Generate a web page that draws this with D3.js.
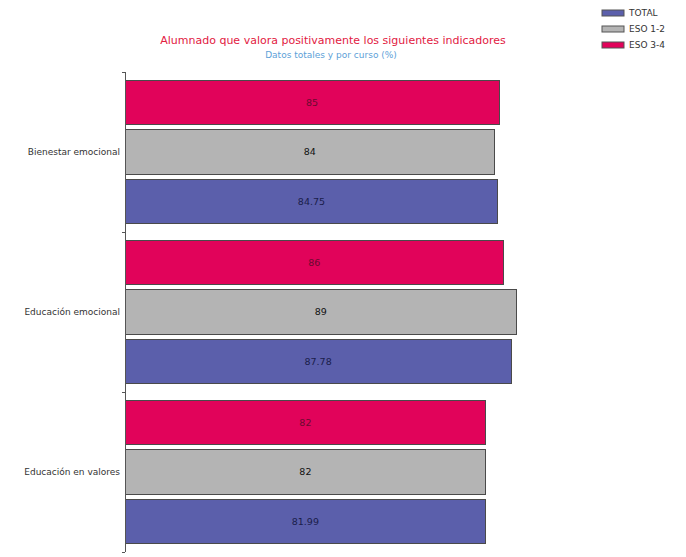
<!DOCTYPE html>
<meta charset="utf-8">
<style>
body { margin: 0; background: #fff; }
text { font-family: "DejaVu Sans", sans-serif; }
.axis path, .axis line { fill: none; stroke: #555; shape-rendering: crispEdges; }
.bar { stroke: #4a4a4a; stroke-width: 1px; shape-rendering: crispEdges; }
</style>
<svg width="686" height="557"></svg>
<script src="https://d3js.org/d3.v7.min.js"></script>
<script>

var categories = ["Bienestar emocional", "Educación emocional", "Educación en valores"];
var series = ["ESO 3-4", "ESO 1-2", "TOTAL"];
var values = {
  "ESO 3-4": [85, 86, 82],
  "ESO 1-2": [84, 89, 82],
  "TOTAL":   [84.75, 87.78, 81.99]
};
var legendOrder = ["TOTAL", "ESO 1-2", "ESO 3-4"];

var colors = {"ESO 3-4": "#e1035a", "ESO 1-2": "#b4b4b4", "TOTAL": "#5b5fab"};
var labelColors = {"ESO 3-4": "#6a0a30", "ESO 1-2": "#111", "TOTAL": "#1a1d4a"};

var svg = d3.select("svg");

var margin = {top: 72, left: 125},
    plotH = 480,
    plotW = 440;

var y = d3.scaleBand()
    .domain(categories)
    .range([margin.top, margin.top + plotH]);

var ySub = d3.scaleBand()
    .domain(series)
    .range([0, y.bandwidth()])
    .paddingInner(0.1)
    .paddingOuter(0.17);

var x = d3.scaleLinear()
    .domain([0, 100])
    .range([margin.left, margin.left + plotW]);

// title
svg.append("text")
    .attr("x", 333).attr("y", 44)
    .attr("text-anchor", "middle")
    .style("font-size", "11px")
    .style("fill", "#e2203f")
    .text("Alumnado que valora positivamente los siguientes indicadores");

svg.append("text")
    .attr("x", 331).attr("y", 58)
    .attr("text-anchor", "middle")
    .style("font-size", "9px")
    .style("fill", "#5d9fd8")
    .text("Datos totales y por curso (%)");

// bars
var rows = [];
categories.forEach(function(c, i) {
  series.forEach(function(s) {
    rows.push({cat: c, key: s, value: values[s][i]});
  });
});

var bar = svg.selectAll(".barg")
    .data(rows)
  .enter().append("g")
    .attr("class", "barg");

bar.append("rect")
    .attr("class", "bar")
    .attr("x", x(0))
    .attr("y", function(d) { return y(d.cat) + ySub(d.key); })
    .attr("width", function(d) { return x(d.value) - x(0); })
    .attr("height", ySub.bandwidth())
    .style("fill", function(d) { return colors[d.key]; });

bar.append("text")
    .attr("x", function(d) { return (x(0) + x(d.value)) / 2; })
    .attr("y", function(d) { return y(d.cat) + ySub(d.key) + ySub.bandwidth() / 2; })
    .attr("dy", ".35em")
    .attr("text-anchor", "middle")
    .style("font-size", "9.5px")
    .style("fill", function(d) { return labelColors[d.key]; })
    .text(function(d) { return d.value; });

// axis: line with ticks at band edges
var edges = categories.map(function(c) { return y(c); }).concat([margin.top + plotH]);
var ax = svg.append("g").attr("class", "axis");
ax.append("line")
    .attr("x1", margin.left).attr("x2", margin.left)
    .attr("y1", margin.top).attr("y2", margin.top + plotH);
ax.selectAll(".tick")
    .data(edges)
  .enter().append("line")
    .attr("x1", margin.left - 3).attr("x2", margin.left)
    .attr("y1", function(d) { return d; })
    .attr("y2", function(d) { return d; });

svg.selectAll(".cat")
    .data(categories)
  .enter().append("text")
    .attr("x", margin.left - 5)
    .attr("y", function(d) { return y(d) + y.bandwidth() / 2; })
    .attr("dy", ".35em")
    .attr("text-anchor", "end")
    .style("font-size", "9px")
    .style("fill", "#333")
    .text(function(d) { return d; });

// legend
var legend = svg.selectAll(".legend")
    .data(legendOrder)
  .enter().append("g")
    .attr("transform", function(d, i) { return "translate(602," + (10 + i * 16) + ")"; });

legend.append("rect")
    .attr("width", 22).attr("height", 6)
    .style("fill", function(d) { return colors[d]; })
    .style("stroke", "#555");

legend.append("text")
    .attr("x", 27).attr("y", 3)
    .attr("dy", ".35em")
    .style("font-size", "9px")
    .style("fill", "#333")
    .text(function(d) { return d; });

</script>
